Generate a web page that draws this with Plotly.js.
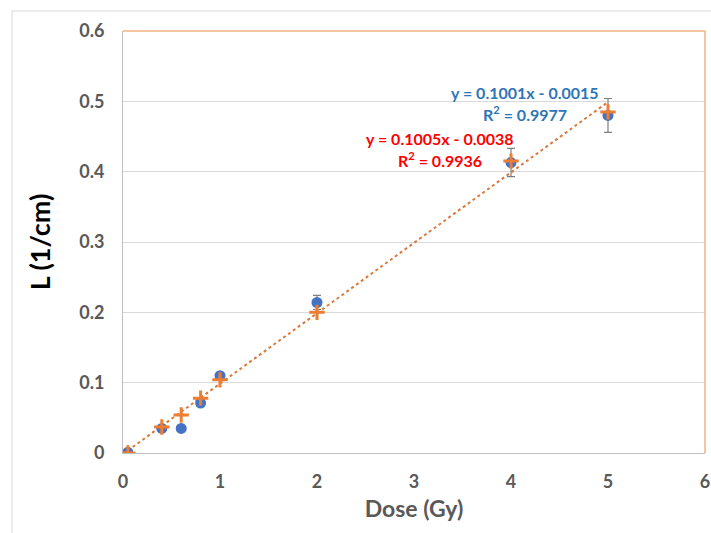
<!DOCTYPE html>
<html>
<head>
<meta charset="utf-8">
<script src="https://cdn.plot.ly/plotly-3.0.1.min.js"></script>
<style>html,body{margin:0;padding:0;background:#fff;}#chart{width:711px;height:533px;}</style>
</head>
<body>
<div id="chart"></div>
<script>
// Data
const dose = [0.05, 0.4, 0.6, 0.8, 1, 2, 4, 5];
const lBlue = [0.001, 0.035, 0.035, 0.071, 0.110, 0.214, 0.413, 0.480];
const errBlue = [0, 0, 0, 0, 0.003, 0.010, 0.020, 0.024];
const lOrange = [0, 0.037, 0.054, 0.078, 0.104, 0.200, 0.415, 0.485];
const fitBlue = [0.1001, -0.0015]; // slope, intercept
const fitOrange = [0.1005, -0.0038];
const r2Blue = 0.9977;
const r2Orange = 0.9936;
const xTicks = [0, 1, 2, 3, 4, 5, 6];
const yTicks = [0, 0.1, 0.2, 0.3, 0.4, 0.5, 0.6];

const xMin = Math.min(...dose), xMax = Math.max(...dose);
const fitX = [xMin, xMax];
const fitY = fitX.map(x => fitBlue[0] * x + fitBlue[1]);

const fmtEq = (f) => 'y = ' + f[0].toFixed(4) + 'x - ' + Math.abs(f[1]).toFixed(4);

const font = 'Lato, "Open Sans", sans-serif';

const traces = [
  {
    x: fitX, y: fitY, mode: 'lines', type: 'scatter',
    line: {color: '#D9793A', width: 2, dash: 'dot'},
    hoverinfo: 'skip', showlegend: false
  },
  {
    x: dose, y: lBlue, mode: 'markers', type: 'scatter',
    marker: {symbol: 'circle', size: 11, color: '#4472C4'},
    error_y: {type: 'data', array: errBlue, visible: true, color: '#7F7F7F', thickness: 1.2, width: 4},
    showlegend: false
  },
  {
    x: dose, y: lOrange, mode: 'markers', type: 'scatter',
    marker: {symbol: 'cross-thin', size: 11, color: '#ED7D31', line: {color: '#ED7D31', width: 3}},
    showlegend: false
  }
];

const layout = {
  width: 711, height: 533,
  margin: {l: 123, r: 6, t: 31, b: 80},
  paper_bgcolor: '#ffffff', plot_bgcolor: '#ffffff',
  font: {family: font},
  xaxis: {
    range: [0, 6], tickvals: xTicks, ticktext: xTicks.map(String),
    showgrid: false, zeroline: false, showline: true, linecolor: '#BFBFBF', linewidth: 1,
    ticks: '', ticklabelstandoff: 12,
    tickfont: {family: font, size: 18, color: '#595959', weight: 'bold'},
    title: {text: 'Dose (Gy)', font: {family: font, size: 23, color: '#595959', weight: 'bold'}, standoff: 10}
  },
  yaxis: {
    range: [0, 0.6], tickvals: yTicks, ticktext: yTicks.map(v => v === 0 ? '0' : v.toFixed(1)),
    showgrid: true, gridcolor: '#D9D9D9', gridwidth: 1,
    zeroline: false, showline: true, linecolor: '#BFBFBF', linewidth: 1,
    ticks: '', ticklabelstandoff: 14,
    tickfont: {family: font, size: 18, color: '#595959', weight: 'bold'},
    title: {text: 'L (1/cm)', font: {family: font, size: 27, color: '#000000', weight: 'bold'}, standoff: 20}
  },
  shapes: [
    {type: 'line', xref: 'paper', yref: 'paper', x0: 0, x1: 1, y0: 1, y1: 1, line: {color: '#F4B183', width: 1.5}},
    {type: 'line', xref: 'paper', yref: 'paper', x0: 1, x1: 1, y0: 0, y1: 1, line: {color: '#F4B183', width: 1.5}},
    {type: 'rect', xref: 'paper', yref: 'paper', x0: -0.1907, x1: 1.05, y0: -0.25, y1: 1.0474, line: {color: '#D9D9D9', width: 1}, layer: 'below'}
  ],
  annotations: [
    {x: 4.144, y: 0.512, xref: 'x', yref: 'y', text: fmtEq(fitBlue), showarrow: false, xanchor: 'center',
     font: {family: font, size: 16, color: '#2E75B6', weight: 'bold'}},
    {x: 4.144, y: 0.483, xref: 'x', yref: 'y', text: 'R<sup>2</sup> = ' + r2Blue.toFixed(4), showarrow: false, xanchor: 'center',
     font: {family: font, size: 16, color: '#2E75B6', weight: 'bold'}},
    {x: 3.268, y: 0.4465, xref: 'x', yref: 'y', text: fmtEq(fitOrange), showarrow: false, xanchor: 'center',
     font: {family: font, size: 16, color: '#FF0000', weight: 'bold'}},
    {x: 3.268, y: 0.4166, xref: 'x', yref: 'y', text: 'R<sup>2</sup> = ' + r2Orange.toFixed(4), showarrow: false, xanchor: 'center',
     font: {family: font, size: 16, color: '#FF0000', weight: 'bold'}}
  ]
};

Plotly.newPlot('chart', traces, layout, {displayModeBar: false, staticPlot: true});
</script>
</body>
</html>
